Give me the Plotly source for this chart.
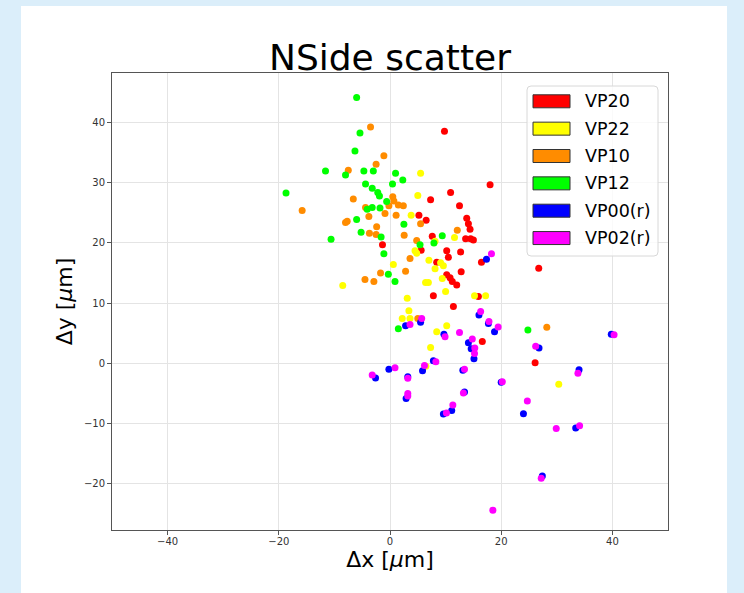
import plotly.graph_objects as go

# ---------------- data ----------------
series_names = ["VP20", "VP22", "VP10", "VP12", "VP00(r)", "VP02(r)"]
series_colors = ["#ff0000", "#ffff00", "#ff8c00", "#00ff00", "#0000ff", "#ff00ff"]

vp20_x = [9.8, 18.0, 10.9, 7.3, 12.5, 5.2, 6.5, 13.8, 14.1, 14.4, 13.6, 14.5, 15.0, 7.6, -1.35, 5.6,
          10.2, 12.7, 10.5, 8.4, 16.45, 26.75, 10.2, 10.8, 11.2, 12.0, 12.8, 7.8, 15.9, 11.4, 16.6, 26.1]
vp20_y = [38.6, 29.7, 28.4, 27.2, 26.2, 24.6, 23.8, 24.1, 23.2, 22.3, 20.7, 20.7, 20.5, 21.1, 19.7, 18.8,
          18.7, 18.5, 17.6, 16.8, 16.8, 15.8, 14.7, 14.2, 13.6, 13.0, 15.2, 11.2, 11.1, 9.4, 3.6, 0.05]

vp22_x = [5.5, 5.0, 3.8, 11.6, 8.1, 4.5, 4.8, 7.0, 9.1, 9.6, 8.1, 0.6, 9.4, 6.4, 6.9, -8.5, 10.0,
          3.1, 15.2, 17.2, 3.4, 2.2, 3.6, 10.2, 8.4, 7.3, 6.45, 30.35]
vp22_y = [31.6, 27.9, 24.6, 20.9, 20.3, 18.7, 18.3, 17.1, 16.7, 16.2, 15.7, 16.4, 14.1, 13.4, 13.4, 12.9, 11.9,
          10.8, 11.2, 11.2, 8.7, 7.4, 7.4, 6.2, 5.2, 2.6, -0.55, -3.55]

vp10_x = [-3.5, -1.1, -2.5, -7.5, 0.5, 0.7, 1.5, 2.4, -0.2, -6.6, -4.4, -15.8, -0.9, 1.1, 5.5, -7.7,
          -8.0, -3.8, -2.4, -3.7, -2.5, 2.55, 4.8, 12.1, 3.6, 2.8, -1.7, -4.5, -2.9, 5.0, 28.2]
vp10_y = [39.3, 34.5, 33.1, 32.1, 27.7, 27.0, 26.3, 26.2, 26.2, 27.3, 25.9, 25.4, 24.9, 24.6, 23.2, 23.6,
          23.4, 24.4, 22.7, 21.6, 21.4, 21.3, 20.4, 22.1, 17.4, 15.3, 15.0, 13.9, 13.6, 7.4, 5.95]

vp12_x = [-6.0, -5.4, -6.3, -11.6, -8.0, -4.7, -3.0, 1.0, 2.3, -18.7, -4.4, -3.2, -2.2, -1.9, 0.45, -0.6,
          -4.1, -3.2, -1.8, -6.0, 2.5, -5.2, -1.6, 9.4, 7.9, -10.6, 5.4, -1.1, -0.3, 0.9, 1.5, 24.8]
vp12_y = [44.2, 38.3, 35.3, 32.0, 31.3, 32.0, 32.0, 31.6, 30.5, 28.3, 29.8, 29.1, 28.4, 27.8, 29.8, 26.9,
          25.6, 25.9, 25.8, 23.9, 23.1, 21.8, 21.0, 21.2, 20.0, 20.6, 19.7, 18.2, 14.8, 13.6, 5.7, 5.5]

vp00_x = [17.35, 16.0, 17.7, 5.5, 2.8, 9.7, 14.1, 14.6, 15.1, 18.8, 7.8, 5.85, -0.2, -2.6, 3.2, 13.1,
          20.0, 24.0, 13.4, 2.9, 11.1, 9.6, 39.8, 26.8, 34.0, 33.4, 27.4]
vp00_y = [17.3, 8.0, 6.6, 6.8, 6.2, 4.8, 3.4, 2.4, 0.7, 5.2, 0.4, -1.3, -1.05, -2.5, -2.3, -1.2,
          -3.2, -8.45, -4.8, -5.9, -7.9, -8.5, 4.8, 2.5, -1.1, -10.8, -18.8]

vp02_x = [18.25, 16.3, 17.8, 19.45, 5.7, 3.6, 9.9, 12.5, 14.8, 15.25, 15.2, 8.25, 6.2, 0.9, -3.2, 3.2,
          13.4, 20.2, 24.7, 13.2, 3.2, 3.2, 11.3, 10.15, 40.3, 26.2, 33.8, 29.9, 34.1, 27.2, 18.5]
vp02_y = [18.2, 8.6, 6.9, 6.0, 7.4, 6.4, 4.4, 5.1, 4.0, 2.5, 1.6, 0.2, -0.4, -0.8, -2.0, -2.55,
          -1.05, -3.1, -6.3, -5.0, -5.05, -5.5, -7.0, -8.3, 4.7, 2.8, -1.7, -10.9, -10.45, -19.2, -24.5]

series_x = [vp20_x, vp22_x, vp10_x, vp12_x, vp00_x, vp02_x]
series_y = [vp20_y, vp22_y, vp10_y, vp12_y, vp00_y, vp02_y]

x_ticks = [-40, -20, 0, 20, 40]
y_ticks = [-20, -10, 0, 10, 20, 30, 40]

# ---------------- layout geometry ----------------
W, H = 744, 593
L, R, T, B = 112, 668, 73, 530
PAGE_BG = "#dbeefa"


def px2x(px):
    return (px - L) / (R - L)


def py2y(py):
    return (B - py) / (B - T)


FONT = "DejaVu Sans"

fig = go.Figure()
for name, color, xs, ys in zip(series_names, series_colors, series_x, series_y):
    fig.add_trace(go.Scatter(
        x=xs, y=ys, mode="markers", name=name, showlegend=False,
        marker=dict(color=color, size=7, line=dict(width=0)),
    ))

shapes = []
annotations = []
# white panel on light-blue page
shapes.append(dict(type="rect", xref="paper", yref="paper",
                   x0=px2x(21), x1=px2x(727), y0=py2y(6), y1=py2y(600),
                   fillcolor="white", line=dict(width=0), layer="below"))

# legend box (matplotlib style)
lx0, lx1, ly0, ly1 = px2x(527), px2x(658), py2y(256), py2y(86)
rx, ry = 4 / (R - L), 4 / (B - T)
path = (f"M{lx0+rx},{ly1} L{lx1-rx},{ly1} Q{lx1},{ly1} {lx1},{ly1-ry} "
        f"L{lx1},{ly0+ry} Q{lx1},{ly0} {lx1-rx},{ly0} "
        f"L{lx0+rx},{ly0} Q{lx0},{ly0} {lx0},{ly0+ry} "
        f"L{lx0},{ly1-ry} Q{lx0},{ly1} {lx0+rx},{ly1} Z")
shapes.append(dict(type="path", xref="paper", yref="paper", path=path,
                   fillcolor="rgba(255,255,255,0.8)", line=dict(color="#d8d8d8", width=1),
                   layer="above"))
row0, step = 101.3, 27.35
for i, (name, color) in enumerate(zip(series_names, series_colors)):
    cy = row0 + i * step
    shapes.append(dict(type="rect", xref="paper", yref="paper",
                       x0=px2x(533), x1=px2x(570), y0=py2y(cy + 6.5), y1=py2y(cy - 6.5),
                       fillcolor=color, line=dict(color="#333333", width=1), layer="above"))
    annotations.append(dict(xref="paper", yref="paper", x=px2x(583), y=py2y(cy),
                            xanchor="left", yanchor="middle", text=name, showarrow=False,
                            font=dict(family=FONT, size=17.5, color="black")))

axis_common = dict(
    showgrid=True, gridcolor="#e4e4e4", gridwidth=1,
    showline=True, linecolor="#555555", linewidth=1, mirror=True,
    ticks="outside", ticklen=4, tickcolor="#555555", tickwidth=1,
    tickfont=dict(family=FONT, size=10, color="#333333"),
    zeroline=False,
)

fig.update_layout(
    width=W, height=H,
    margin=dict(l=L, r=W - R, t=T, b=H - B, pad=0),
    paper_bgcolor=PAGE_BG, plot_bgcolor="white",
    title=dict(text="NSide scatter", x=(268 + 512) / 2 / W, xanchor="center",
               y=1 - 57 / H, yanchor="middle", yref="container",
               font=dict(family=FONT, size=36, color="black")),
    xaxis=dict(range=[-50, 50], tickvals=x_ticks, ticklabelstandoff=-2,
               title=dict(text="Δx [<i>μ</i>m]", standoff=0,
                          font=dict(family=FONT, size=22, color="black")),
               **axis_common),
    yaxis=dict(range=[-27.8, 48.3], tickvals=y_ticks,
               title=dict(text="Δy [<i>μ</i>m]", standoff=5,
                          font=dict(family=FONT, size=22, color="black")),
               **axis_common),
    shapes=shapes, annotations=annotations,
    showlegend=False,
)

fig.write_html(
    "out.html",
    config={"displayModeBar": False},
    post_script=f"document.body.style.margin='0';document.body.style.background='{PAGE_BG}';",
)
